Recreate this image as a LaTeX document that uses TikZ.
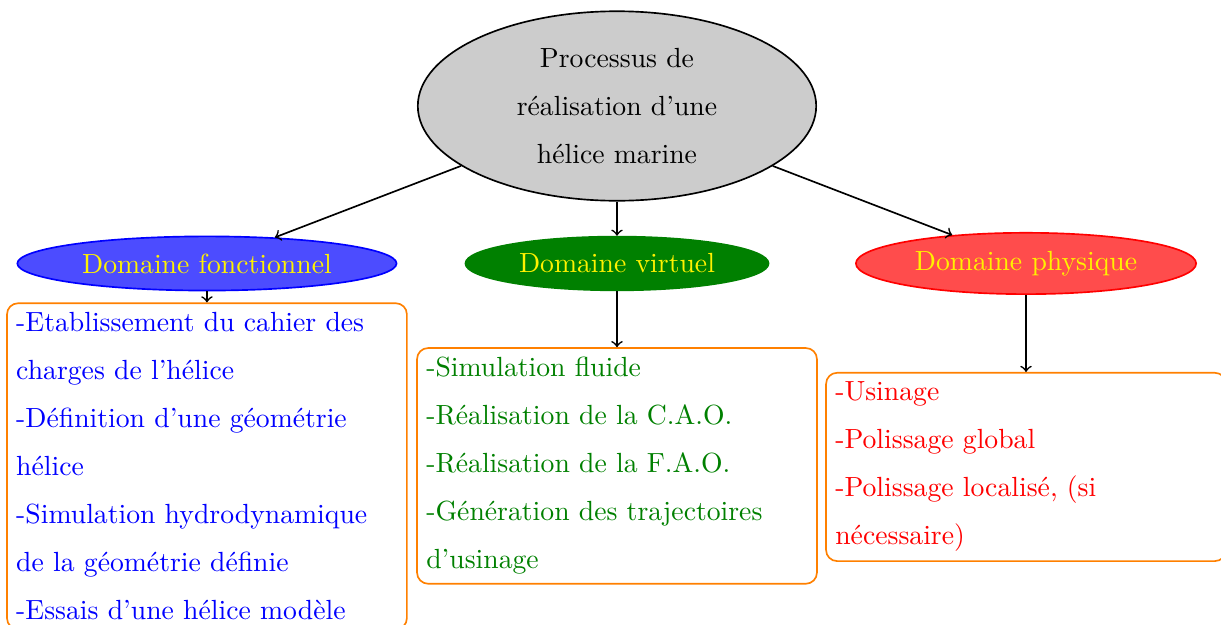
\documentclass[tikz,border=0pt]{standalone}
\usetikzlibrary{shapes.geometric, positioning}
\tikzset{
    domaine/.style={ellipse, draw, semithick, text=yellow},
    liste/.style={draw=orange, semithick, rounded corners, text width=4.84cm, align=left, font=\fontsize{10}{17.33}\selectfont},
}

\begin{document}
\begin{tikzpicture}

            % Cadre
            \useasboundingbox (-7.829,1.345) rectangle (7.664,-6.585);

            % Processus
            \node[ellipse, draw, semithick, fill=black!20, text width=3.34cm, align=center, font=\fontsize{10}{17.33}\selectfont] (processus) at (0,0) {Processus de\\ réalisation d'une\\ hélice marine};

            % Domaines
            \node[domaine, draw=blue, fill=blue!70] (fonctionnel) at (-5.203,-1.998) {Domaine fonctionnel};
            \node[domaine, draw=green!50!black, fill=green!50!black] (virtuel) at (0,-1.998) {Domaine virtuel};
            \node[domaine, draw=red, fill=red!70] (physique) at (5.19,-1.998) {Domaine physique};

            % Listes
            \node[liste, text=blue, below=0.14cm of fonctionnel] (listefonc) {-Etablissement du cahier des\\ charges de l'hélice\\ -Définition d'une géométrie\\ hélice\\ -Simulation hydrodynamique\\ de la géométrie définie\\ -Essais d'une hélice modèle};
            \node[liste, text=green!50!black, below=0.711cm of virtuel] (listevirt) {-Simulation fluide\\ -Réalisation de la C.A.O.\\ -Réalisation de la F.A.O.\\ -Génération des trajectoires\\ d'usinage};
            \node[liste, text=red, below=0.977cm of physique] (listephys) {-Usinage\\ -Polissage global\\ -Polissage localisé, (si\\ nécessaire)};

            % Relations
            \draw[->, semithick] (processus) -- (fonctionnel);
            \draw[->, semithick] (processus) -- (virtuel);
            \draw[->, semithick] (processus) -- (physique);
            \draw[->, semithick] (fonctionnel) -- (listefonc);
            \draw[->, semithick] (virtuel) -- (listevirt);
            \draw[->, semithick] (physique) -- (listephys);

        \end{tikzpicture}
\end{document}
